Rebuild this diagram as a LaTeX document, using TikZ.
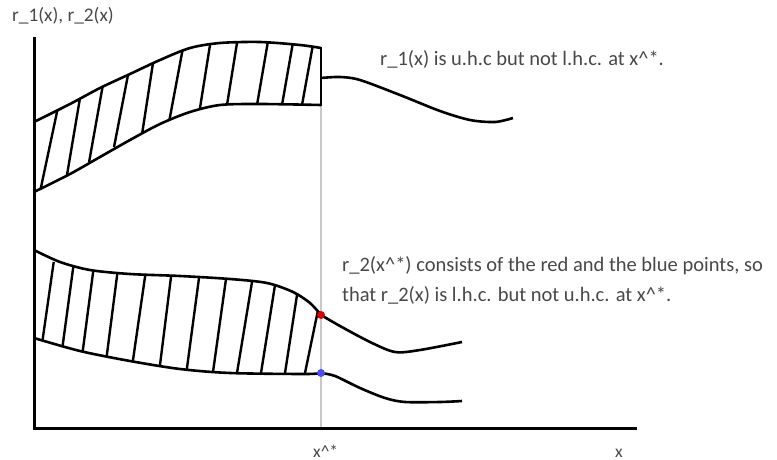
\documentclass[tikz,border=0pt]{standalone}
\usepackage{fontspec}
\setmainfont{Carlito}
\usetikzlibrary{positioning}
\definecolor{txtgray}{HTML}{484848}
\definecolor{guide}{HTML}{C8C8C8}
\tikzset{curve/.style={line width=2.6pt,line join=round},
  axisline/.style={line width=3pt},
  hatch/.style={line width=2.4pt,shorten <=-5pt,shorten >=-5pt},
  lbl/.style={text=txtgray,font=\fontsize{20.5}{30}\selectfont,inner sep=0pt,anchor=base west},
  dot/.style={circle,inner sep=0pt,minimum size=8pt}}

\begin{document}
\begin{tikzpicture}[x=1pt,y=-1pt]
\useasboundingbox (0,0) rectangle (777,460);
\coordinate (O) at (34,428);
\coordinate (ytop) at (34,37);
\coordinate (xend) at (637,428);
\coordinate (gtop) at (321,105);
\coordinate (gbot) at (321,428);
\draw[guide,line width=2.4pt] (gtop)--(gbot);
% upper band: r_1(x)
\begin{scope}
\clip plot[smooth] coordinates {(34,122) (70,104) (100,88) (130,74) (160,60) (190,48) (220,43) (260,42) (300,45) (321,48)}
  -- plot[smooth] coordinates {(321,105) (260,104) (220,105) (190,112) (160,124) (130,140) (100,157) (70,174) (34,192)} -- cycle;
\foreach \xa/\ya/\xb/\yb in {40/192/57/112,67/175/80/98,90/157/102/90,115/142/128/75,143/128/153/63,170/117/182/53,
  200/108/210/45,227/105/237/43,257/105/267/47,282/105/292/48,302/105/312/50}
  \draw[hatch] (\xa,\ya)--(\xb,\yb);
\end{scope}
\draw[curve] plot[smooth] coordinates {(34,122) (70,104) (100,88) (130,74) (160,60) (190,48) (220,43) (260,42) (300,45) (321,48)};
\draw[curve] plot[smooth] coordinates {(34,192) (70,174) (100,157) (130,140) (160,124) (190,112) (220,105) (260,104) (321,105)};
\draw[curve] (321,47)--(321,106);
\draw[curve] plot[smooth] coordinates {(321,78) (340,77) (360,80) (400,95) (440,111) (470,120) (495,122) (513,118)};
% lower band: r_2(x)
\begin{scope}
\clip plot[smooth] coordinates {(34,250) (60,262) (90,270) (130,274) (180,276) (230,279) (267,283) (293,292) (310,303) (321,315)}
  -- plot[smooth] coordinates {(321,373) (305,374) (230,373) (180,369) (130,361) (80,351) (34,338)} -- cycle;
\foreach \xa/\ya/\xb/\yb in {43/337/53/267,63/343/73/269,83/349/93/273,107/354/117/276,133/360/145/277,160/365/171/277,
  187/368/199/278,213/372/226/279,237/373/252/282,261/373/275/285,285/373/297/295,305/373/317/315}
  \draw[hatch] (\xa,\ya)--(\xb,\yb);
\end{scope}
\draw[curve] plot[smooth] coordinates {(34,250) (60,262) (90,270) (130,274) (180,276) (230,279) (267,283) (293,292) (310,303) (321,315)};
\draw[curve] plot[smooth] coordinates {(34,338) (80,351) (130,361) (180,369) (230,373) (305,374) (321,373)};
\draw[curve] plot[smooth] coordinates {(321,315) (340,326) (370,342) (395,352) (420,350) (462,342)};
\draw[curve] plot[smooth] coordinates {(321,373) (335,376) (360,388) (385,398) (405,402) (440,402) (462,401)};
% axes
\draw[axisline] (ytop)--(O)--(xend);
\node[dot,fill=red!85!black] (rpt) at (321,315) {};
\node[dot,fill=blue!70] (bpt) at (321,373) {};
% labels
\node[lbl,font=\fontsize{19.3}{24}\selectfont] (ylab) at (12,22) {r\_1(x), r\_2(x)};
\node[lbl] (note1) at (380,66) {r\_1(x) is u.h.c but not l.h.c. at x\textasciicircum*.};
\node[lbl] (note2) at (342,271) {r\_2(x\textasciicircum*) consists of the red and the blue points, so};
\node[lbl] (note3) at (342,301) {that r\_2(x) is l.h.c. but not u.h.c. at x\textasciicircum*.};
\node[lbl,font=\fontsize{17.5}{22}\selectfont] (xstar) at (313,457) {x\textasciicircum*};
\node[lbl,font=\fontsize{17.5}{22}\selectfont] (xlab) at (615,457) {x};
\end{tikzpicture}
\end{document}
